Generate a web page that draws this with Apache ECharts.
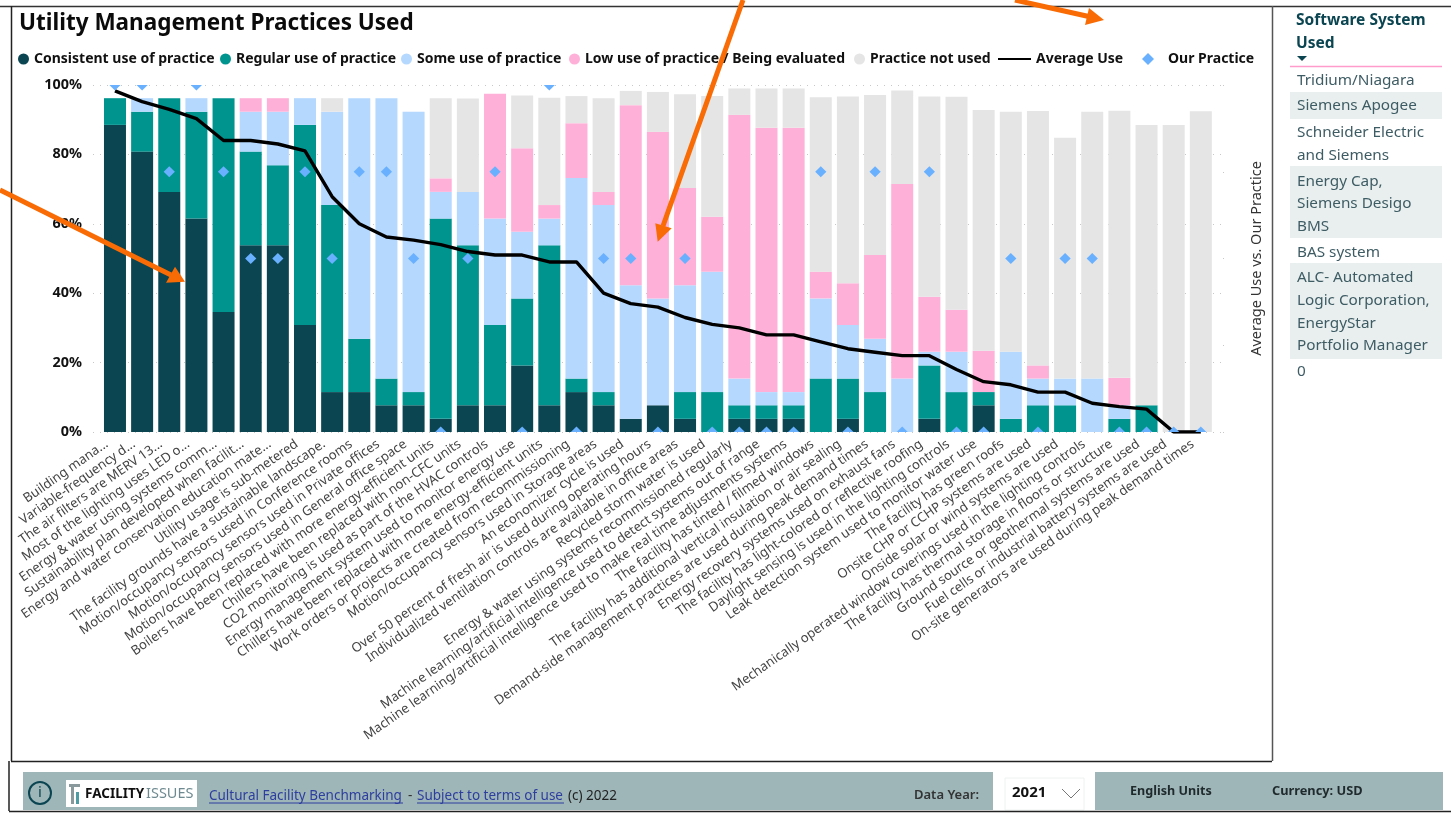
<!DOCTYPE html>
<html>
<head>
<meta charset="utf-8">
<title>Utility Management Practices Used</title>
<script src="https://cdn.jsdelivr.net/npm/echarts@6/dist/echarts.min.js"></script>
<style>
html, body { margin: 0; padding: 0; background: #fff; }
#main { width: 1451px; height: 815px; }
</style>
</head>
<body>
<div id="main"></div>
<script>
var categories = [
    'Building mana...', 'Variable-frequency d...', 'The air filters are MERV 13...',
    'Most of the lighting uses LED o...', 'Energy & water using systems comm...',
    'Sustainability plan developed when facilit...', 'Energy and water conservation education mate...',
    'Utility usage is sub-metered', 'The facility grounds have a sustainable landscape.',
    'Motion/occupancy sensors used in Conference rooms', 'Motion/occupancy sensors used in Private offices',
    'Motion/occupancy sensors used in General office space', 'Boilers have been replaced with more energy-efficient units',
    'Chillers have been replaced with non-CFC units', 'CO2 monitoring is used as part of the HVAC controls',
    'Energy management system used to monitor energy use', 'Chillers have been replaced with more energy-efficient units',
    'Work orders or projects are created from recommissioning', 'Motion/occupancy sensors used in Storage areas',
    'An economizer cycle is used', 'Over 50 percent of fresh air is used during operating hours',
    'Individualized ventilation controls are available in office areas', 'Recycled storm water is used',
    'Energy & water using systems recommissioned regularly', 'Machine learning/artificial intelligence used to detect systems out of range',
    'Machine learning/artificial intelligence used to make real time adjustments systems', 'The facility has tinted / filmed windows',
    'The facility has additional vertical insulation or air sealing', 'Demand-side management practices are used during peak demand times',
    'Energy recovery systems used on exhaust fans', 'The facility has light-colored or reflective roofing',
    'Daylight sensing is used in the lighting controls', 'Leak detection system used to monitor water use',
    'The facility has green roofs', 'Onsite CHP or CCHP systems are used', 'Onside solar or wind systems are used',
    'Mechanically operated window coverings used in the lighting controls', 'The facility has thermal storage in floors or structure',
    'Ground source or geothermal systems are used', 'Fuel cells or industrial battery systems are used',
    'On-site generators are used during peak demand times'
];

var consistentUse = [88.5, 80.8, 69.2, 61.5, 34.6, 53.8, 53.8, 30.8, 11.5, 11.5, 7.7, 7.7, 3.8, 7.7, 7.7, 19.2, 7.7, 11.5, 7.7, 3.8, 7.7, 3.8, 0, 3.8, 3.8, 3.8, 0, 3.8, 0, 0, 3.8, 0, 7.7, 0, 0, 0, 0, 0, 0, 0, 0];
var regularUse = [7.7, 11.5, 27, 30.8, 61.6, 27, 23.1, 57.7, 53.9, 15.4, 7.7, 3.8, 57.7, 46.1, 23.1, 19.3, 46.1, 3.9, 3.8, 0, 0, 7.7, 11.5, 3.9, 3.9, 3.9, 15.4, 11.6, 11.5, 0, 15.4, 11.5, 3.8, 3.8, 7.7, 7.7, 0, 3.8, 7.7, 0, 0];
var someUse = [0, 3.9, 0, 3.9, 0, 11.5, 15.4, 7.7, 26.9, 69.3, 80.8, 80.8, 7.7, 15.4, 30.7, 19.2, 7.7, 57.8, 53.9, 38.5, 30.8, 30.8, 34.7, 7.7, 3.8, 3.8, 23.1, 15.4, 15.4, 15.4, 3.9, 11.6, 0, 19.3, 7.7, 7.7, 15.4, 3.9, 0, 0, 0];
var lowUse = [0, 0, 0, 0, 0, 3.9, 3.9, 0, 0, 0, 0, 0, 3.9, 0, 36, 24.1, 3.9, 15.8, 3.8, 51.9, 48, 28, 15.8, 76, 76.2, 76.2, 7.7, 12.1, 24.1, 56.1, 15.9, 12.1, 11.9, 0, 3.8, 0, 0, 7.9, 0, 0, 0];
var notUsed = [0, 0, 0, 0, 0, 0, 0, 0, 3.9, 0, 0, 0, 23.1, 26.9, 0, 15.2, 30.9, 7.8, 27, 4.1, 11.5, 27, 34.8, 7.6, 11.3, 11.3, 50.3, 53.8, 46.1, 26.9, 57.7, 61.4, 69.4, 69.2, 73.3, 69.4, 76.9, 77, 80.8, 88.5, 92.4];
var averageUse = [98.3, 95.2, 93, 90.3, 84, 84, 83, 81, 67.8, 60, 56.2, 55.3, 54, 52, 51, 51, 49, 49, 40, 37, 36, 33, 31, 30, 28, 28, 26, 24, 23, 22, 22, 18, 14.5, 13.6, 11.5, 11.5, 8.3, 7.3, 6.6, 0, 0];
var ourPractice = [100, 100, 75, 100, 75, 50, 50, 75, 50, 75, 75, 50, 0, 50, 75, 0, 100, 0, 50, 50, 0, 50, 0, 0, 0, 0, 75, 0, 75, 0, 75, 0, 0, 50, 0, 50, 50, 0, 0, 0, 0];

var softwareHeader = ['Software System', 'Used'];
var softwareRows = ['Tridium/Niagara', 'Siemens Apogee', 'Schneider Electric\nand Siemens', 'Energy Cap,\nSiemens Desigo\nBMS', 'BAS system', 'ALC- Automated\nLogic Corporation,\nEnergyStar\nPortfolio Manager', '0'];

var uiFont = '"Noto Sans", sans-serif';
var colors = ['#0A4551', '#00948F', '#B5D8FF', '#FFB0D8', '#E5E5E5'];

function barSeries(name, values, color) {
    return {
        name: name,
        type: 'bar',
        stack: 'use',
        data: values,
        barWidth: 22,
        itemStyle: { color: color },
        emphasis: { disabled: true }
    };
}

function legendAt(name, left, icon, w, h, textGap) {
    return {
        data: [{ name: name, icon: icon }],
        left: left,
        top: 52,
        padding: 0,
        itemWidth: w,
        itemHeight: h,
        selectedMode: false,
        textStyle: { fontFamily: uiFont, fontWeight: 700, fontSize: 14, color: '#111', padding: [0, 0, 0, textGap || 0] }
    };
}

function txt(text, x, y, font, fill, align) {
    return {
        type: 'text',
        z: 30,
        style: { text: text, x: x, y: y, font: font, fill: fill, align: align || 'left', verticalAlign: 'middle' }
    };
}

function box(x, y, w, h, fill, stroke) {
    return {
        type: 'rect',
        z: 20,
        shape: { x: x, y: y, width: w, height: h },
        style: { fill: fill, stroke: stroke || null, lineWidth: stroke ? 1 : 0 }
    };
}

function seg(x1, y1, x2, y2, color, width, z) {
    return {
        type: 'line',
        z: z || 25,
        shape: { x1: x1, y1: y1, x2: x2, y2: y2 },
        style: { stroke: color, lineWidth: width }
    };
}

function arrow(x1, y1, x2, y2, head) {
    return [
        seg(x1, y1, x2, y2, '#F96B05', 5, 60),
        { type: 'polygon', z: 60, shape: { points: head }, style: { fill: '#F96B05' } }
    ];
}

// diamonds sit on the plot edge at 0 and 100, so they need a real clip
function renderDiamond(params, api) {
    var pt = api.coord([api.value(0), api.value(1)]);
    var r = 5.6;
    return {
        type: 'polygon',
        shape: { points: [[pt[0], pt[1] - r], [pt[0] + r, pt[1]], [pt[0], pt[1] + r], [pt[0] - r, pt[1]]] },
        style: api.style()
    };
}

function panelElements() {
    var els = [];
    var bands = [[92, 27], [166, 72], [263, 96]];
    bands.forEach(function (b) { els.push(box(1290, b[0], 152, b[1], '#E9EFEF')); });
    els.push(seg(1290, 66.5, 1442, 66.5, '#FF9CCB', 1.5));
    els.push(txt(softwareHeader[0], 1296, 21, '700 15.5px ' + uiFont, '#0A4551'));
    els.push(txt(softwareHeader[1], 1296, 44, '700 15.5px ' + uiFont, '#0A4551'));
    els.push({ type: 'polygon', z: 30, shape: { points: [[1297, 56], [1307, 56], [1302, 61]] }, style: { fill: '#0A4551' } });
    var rowY = [81, 106, 144, 204, 253, 312, 372];
    softwareRows.forEach(function (row, i) {
        var lines = row.split('\n');
        var y0 = rowY[i] - (lines.length - 1) * 11.3;
        lines.forEach(function (line, j) {
            els.push(txt(line, 1297, y0 + j * 22.6, '15.3px ' + uiFont, '#3E5C64'));
        });
    });
    return els;
}

function footerElements() {
    var els = [];
    var linkFont = '13.5px ' + uiFont;
    els.push(box(23, 772, 970, 38, '#9FB6B9'));
    els.push(box(1095, 772, 348, 38, '#9FB6B9'));
    els.push(box(1005, 778, 79, 32, '#FFFFFF', '#EEF1F1'));
    els.push({ type: 'circle', z: 30, shape: { cx: 40, cy: 793, r: 11 }, style: { fill: 'none', stroke: '#0A4551', lineWidth: 2 } });
    els.push(txt('i', 40, 793, '15px ' + uiFont, '#0A4551', 'center'));
    els.push(box(66, 780, 131, 27, '#FFFFFF'));
    els.push(box(69, 784, 11, 3, '#8A9A9C'));
    els.push(box(71, 787, 3, 17, '#8A9A9C'));
    els.push(box(76, 792, 3, 12, '#4E9CA3'));
    els.push(txt('FACILITY', 85, 794, '700 13.5px ' + uiFont, '#111'));
    els.push(txt('ISSUES', 146, 794, '14.5px ' + uiFont, '#6E8A90'));
    els.push(txt('Cultural Facility Benchmarking', 209, 796, linkFont, '#2D3E9E'));
    els.push(seg(209, 803, 403, 803, '#2D3E9E', 1));
    els.push(txt('-', 408, 796, linkFont, '#333'));
    els.push(txt('Subject to terms of use', 417, 796, linkFont, '#2D3E9E'));
    els.push(seg(417, 803, 564, 803, '#2D3E9E', 1));
    els.push(txt('(c) 2022', 568, 796, linkFont, '#222'));
    els.push(txt('Data Year:', 914, 795, '600 13px ' + uiFont, '#333'));
    els.push(txt('2021', 1012, 793, '700 15px ' + uiFont, '#111'));
    els.push({ type: 'polyline', z: 30, shape: { points: [[1062, 789], [1071, 798], [1080, 789]] }, style: { fill: 'none', stroke: '#777', lineWidth: 1 } });
    els.push(txt('English Units', 1130, 791, '700 12.6px ' + uiFont, '#1F2A2C'));
    els.push(txt('Currency: USD', 1272, 791, '700 12.8px ' + uiFont, '#1F2A2C'));
    return els;
}

function frameElements() {
    return [
        seg(0, 6.5, 1451, 6.5, '#333', 1.5),
        seg(11.5, 6, 11.5, 761, '#222', 1.5),
        seg(1272.5, 6, 1272.5, 761, '#555', 1.5),
        seg(11, 761.5, 1272, 761.5, '#222', 1.5),
        seg(9, 761, 9, 811, '#222', 1.5),
        seg(9, 811.5, 1451, 811.5, '#222', 1.5)
    ];
}

var myChart = echarts.init(document.getElementById('main'));

var option = {
    animation: false,
    backgroundColor: '#fff',
    textStyle: { fontFamily: uiFont },
    title: {
        text: 'Utility Management Practices Used',
        left: 19,
        top: 12,
        padding: 0,
        textStyle: { fontFamily: uiFont, fontWeight: 700, fontSize: 22.5, color: '#0b0b0b' }
    },
    legend: [
        legendAt('Consistent use of practice', 18, 'circle', 11, 11),
        legendAt('Regular use of practice', 220, 'circle', 11, 11),
        legendAt('Some use of practice', 401, 'circle', 11, 11),
        legendAt('Low use of practice / Being evaluated', 569, 'circle', 11, 11),
        legendAt('Practice not used', 854, 'circle', 11, 11),
        legendAt('Average Use', 998, 'path://M0,4 L33,4 L33,6 L0,6 Z', 33, 10),
        legendAt('Our Practice', 1142, 'diamond', 12, 12, 9)
    ],
    grid: [
        { left: 101.4, top: 85, width: 1113, height: 347 },
        { left: 93, top: 85, width: 1130, height: 347 }
    ],
    xAxis: [
        {
            type: 'category',
            data: categories,
            gridIndex: 0,
            axisLine: { show: false },
            axisTick: { show: false },
            axisLabel: { interval: 0, rotate: 35, margin: 5, padding: [0, 10, 0, 0], fontSize: 13.1, color: '#444', fontFamily: uiFont, hideOverlap: false }
        },
        { type: 'value', gridIndex: 1, min: 0, max: 1, show: false }
    ],
    yAxis: [
        { type: 'value', gridIndex: 0, min: 0, max: 100, show: false },
        {
            type: 'value',
            gridIndex: 1,
            min: 0,
            max: 100,
            interval: 20,
            axisLine: { show: false },
            axisTick: { show: false },
            axisLabel: { margin: 11, padding: [2, 0, 0, 0], fontFamily: uiFont, fontWeight: 700, fontSize: 14.4, color: '#111', formatter: '{value}%' },
            splitLine: { show: true, lineStyle: { type: [1, 6], color: '#c8c8c8', width: 1 } }
        },
        {
            type: 'value',
            gridIndex: 1,
            position: 'right',
            min: 0,
            max: 100,
            interval: 25,
            name: 'Average Use vs. Our Practice',
            nameLocation: 'middle',
            nameRotate: 90,
            nameGap: 26,
            nameTextStyle: { fontFamily: uiFont, fontSize: 14.5, color: '#333' },
            axisLine: { show: false },
            axisTick: { show: true, length: 1, lineStyle: { color: '#c8c8c8' } },
            axisLabel: { show: false },
            splitLine: { show: false }
        }
    ],
    series: [
        barSeries('Consistent use of practice', consistentUse, colors[0]),
        barSeries('Regular use of practice', regularUse, colors[1]),
        barSeries('Some use of practice', someUse, colors[2]),
        barSeries('Low use of practice / Being evaluated', lowUse, colors[3]),
        barSeries('Practice not used', notUsed, colors[4]),
        {
            name: 'Average Use',
            type: 'line',
            data: averageUse,
            showSymbol: false,
            symbol: 'none',
            z: 5,
            itemStyle: { color: '#000' },
            lineStyle: { color: '#000', width: 3.4 }
        },
        {
            name: 'Our Practice',
            type: 'custom',
            data: ourPractice.map(function (v, i) { return [i, v]; }),
            encode: { x: 0, y: 1 },
            renderItem: renderDiamond,
            clip: true,
            z: 6,
            itemStyle: { color: '#69B0FF' }
        }
    ],
    graphic: {
        elements: [].concat(
            frameElements(),
            panelElements(),
            footerElements(),
            arrow(0, 190, 171, 275, [[185, 281.7], [175, 266.7], [166, 282.7]]),
            arrow(743, 0, 663, 226, [[657.7, 241.7], [655.3, 223.3], [671.7, 228.3]]),
            arrow(1015, 0, 1091, 17, [[1104, 20], [1089, 8], [1085, 25]])
        )
    }
};

myChart.setOption(option);
</script>
</body>
</html>
